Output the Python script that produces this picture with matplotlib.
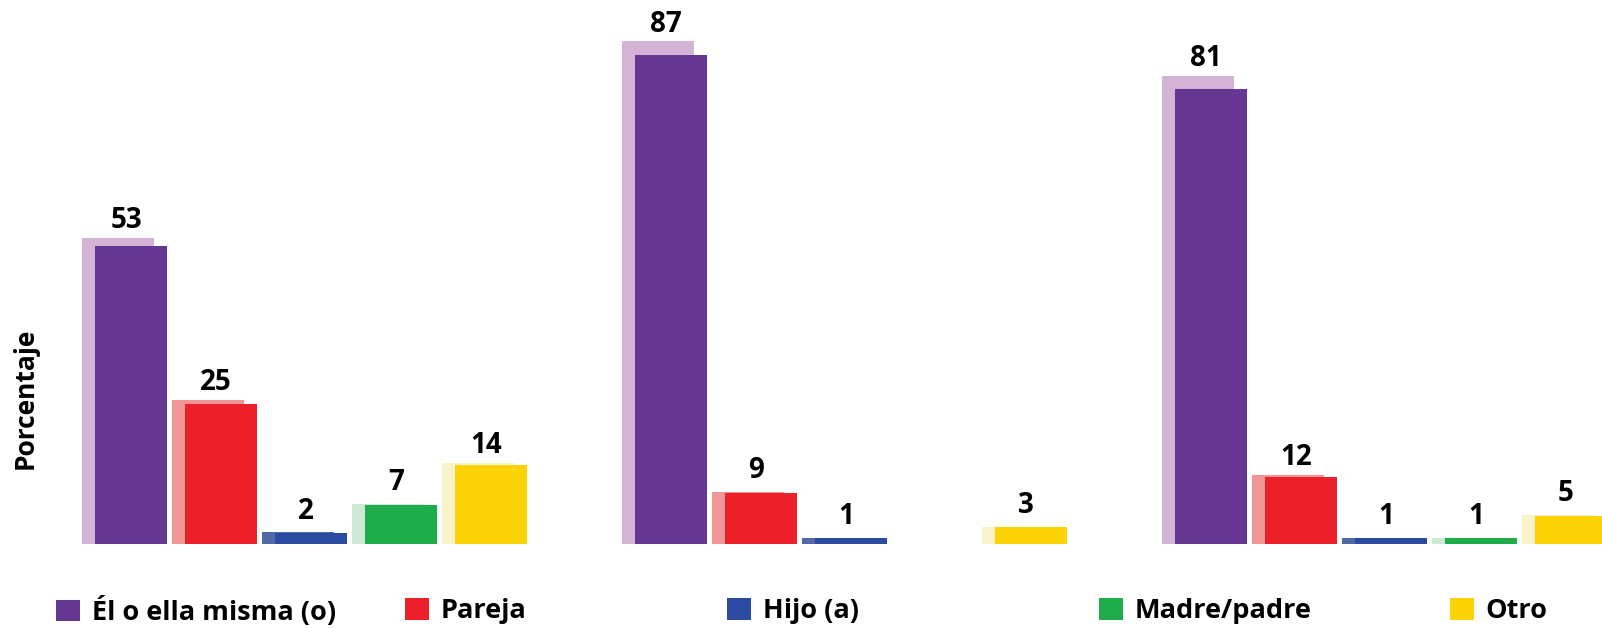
import matplotlib
matplotlib.use("Agg")
import matplotlib.pyplot as plt
from matplotlib.patches import Patch
from matplotlib import font_manager
import numpy as np

# --- Data ---
categories = ["Él o ella misma (o)", "Pareja", "Hijo (a)", "Madre/padre", "Otro"]
group_1 = [53, 25, 2, 7, 14]
group_2 = [87, 9, 1, 0, 3]
group_3 = [81, 12, 1, 1, 5]

# --- Styles ---
colors = ["#663792", "#EC2028", "#2B4BA0", "#1FAC4B", "#FCD405"]
shadow_colors = ["#D3B4D7", "#F29596", "#5068A8", "#CDE8D5", "#F8F3C9"]

available = {f.name for f in font_manager.fontManager.ttflist}
family = [f for f in ["Liberation Sans Narrow", "Open Sans", "DejaVu Sans"] if f in available]
plt.rcParams["font.family"] = family
plt.rcParams["font.weight"] = "bold"

W, H = 1602, 628
fig = plt.figure(figsize=(W / 100, H / 100), dpi=100)

# axes placement in pixels: slot of 90 px, first bar centred at 131 px, baseline 84 px from bottom
slot_px = 90.0
first_px = 131.0
base_px = 84.0
unit_px = 5.62
ax = fig.add_axes([0, base_px / H, 1, (H - base_px) / H])
ax.set_xlim(-first_px / slot_px, (W - first_px) / slot_px)
ax.set_ylim(0, (H - base_px) / unit_px)
ax.axis("off")

groups = [group_1, group_2, group_3]
bar_w = 0.8
shadow_dx = -13 / slot_px

for g, vals in enumerate(groups):
    x = g * 6 + np.arange(len(vals))
    vals = np.array(vals, dtype=float)
    # pale back copy, a little taller and shifted left
    ax.bar(x + shadow_dx, vals * 1.028, width=bar_w, color=shadow_colors, zorder=1, clip_on=False)
    ax.bar(x, vals, width=bar_w, color=colors, zorder=2)
    for xi, v in zip(x, vals):
        if v > 0:
            ax.annotate(f"{v:.0f}", (xi - 5 / slot_px, v * 1.028), xytext=(0, 2 + (3 if v < 10 else 0)),
                        textcoords="offset points", ha="center", va="bottom",
                        fontsize=20, fontweight="bold", color="black")

fig.text(25 / W, 1 - 398 / H, "Porcentaje", rotation=90, ha="center", va="center",
         fontsize=19, fontweight="bold")

# legend entries, spread along the bottom
legend_x_px = [56, 405, 727, 1099, 1450]
for name, c, lx in zip(categories, colors, legend_x_px):
    fig.legend(handles=[Patch(facecolor=c, edgecolor="none")], labels=[name],
               loc="center left", bbox_to_anchor=(lx / W, 1 - 611 / H),
               frameon=False, handlelength=0.88, handleheight=0.85,
               handletextpad=0.44, borderpad=0, borderaxespad=0,
               prop={"weight": "bold", "size": 19.5})

fig.savefig("out.png", dpi=100)
